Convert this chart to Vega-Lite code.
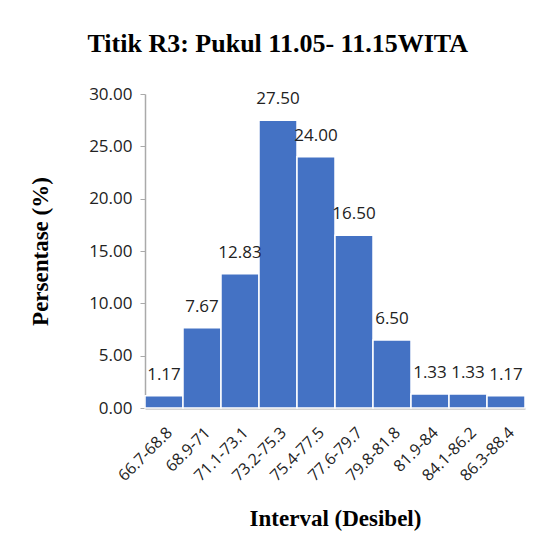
{
  "$schema": "https://vega.github.io/schema/vega-lite/v6.json",
  "width": 380,
  "height": 314,
  "padding": {"left": 29, "top": 31, "right": 20, "bottom": 10},
  "background": "white",
  "title": {
    "text": "Titik R3: Pukul 11.05- 11.15WITA",
    "font": "Liberation Serif",
    "fontSize": 26,
    "fontWeight": "bold",
    "color": "black",
    "anchor": "middle",
    "frame": "bounds",
    "offset": 28
  },
  "data": {
    "values": [
      {"interval": "66.7-68.8", "pct": 1.17},
      {"interval": "68.9-71", "pct": 7.67},
      {"interval": "71.1-73.1", "pct": 12.83},
      {"interval": "73.2-75.3", "pct": 27.5},
      {"interval": "75.4-77.5", "pct": 24.0},
      {"interval": "77.6-79.7", "pct": 16.5},
      {"interval": "79.8-81.8", "pct": 6.5},
      {"interval": "81.9-84", "pct": 1.33},
      {"interval": "84.1-86.2", "pct": 1.33},
      {"interval": "86.3-88.4", "pct": 1.17}
    ]
  },
  "encoding": {
    "x": {
      "field": "interval",
      "type": "nominal",
      "sort": null,
      "scale": {"paddingInner": 0, "paddingOuter": 0},
      "axis": {
        "title": "Interval (Desibel)",
        "titleFont": "Liberation Serif",
        "titleFontSize": 23,
        "titleFontWeight": "bold",
        "titleColor": "black",
        "titlePadding": 24,
        "labelAngle": -45,
        "labelFont": "Open Sans",
        "labelFontSize": 16,
        "labelColor": "#222",
        "labelPadding": 16,
        "ticks": false,
        "domainColor": "#aaaaaa",
        "domainWidth": 2
      }
    },
    "y": {
      "field": "pct",
      "type": "quantitative",
      "scale": {"domain": [0, 30]},
      "axis": {
        "title": "Persentase (%)",
        "titleFont": "Liberation Serif",
        "titleFontSize": 23,
        "titleFontWeight": "bold",
        "titleColor": "black",
        "titlePadding": 36,
        "values": [0, 5, 10, 15, 20, 25, 30],
        "format": ".2f",
        "labelFont": "Open Sans",
        "labelFontSize": 17,
        "labelColor": "#222",
        "labelPadding": 8,
        "grid": false,
        "tickColor": "#aaaaaa",
        "tickSize": 5,
        "domainColor": "#aaaaaa",
        "domainWidth": 1.5
      }
    }
  },
  "layer": [
    {
      "mark": {"type": "bar", "color": "#4472C4", "stroke": "white", "strokeWidth": 1.5}
    },
    {
      "mark": {"type": "text", "baseline": "bottom", "dy": -12, "font": "Open Sans", "fontSize": 17, "color": "#222"},
      "encoding": {"text": {"field": "pct", "type": "quantitative", "format": ".2f"}}
    }
  ],
  "config": {"view": {"stroke": null}}
}
